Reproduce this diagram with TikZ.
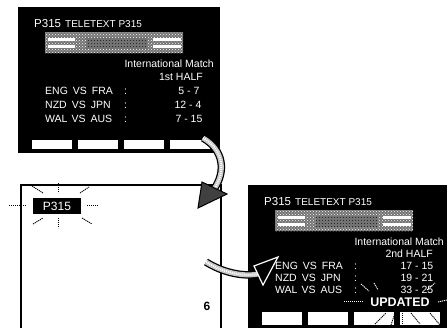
\documentclass[tikz,border=0pt]{standalone}
\usepackage{fontspec}
\setmainfont{Liberation Sans}
\usetikzlibrary{patterns}
\tikzset{
  scr/.style={fill=black},
  wtxt/.style={text=white, inner sep=0pt, font=\fontsize{10.5}{11}\selectfont},
  btn/.style={fill=white},
  ray/.style={line width=0.9pt, dash pattern=on 1.2pt off 0.8pt},
  band/.style={fill=black!55},
  bar/.style={fill=white},
  dith/.style={pattern=crosshatch dots, pattern color=white},
  mid/.style={pattern=crosshatch dots, pattern color=black},
}
\begin{document}
\begin{tikzpicture}[x=1pt,y=-1pt]
\useasboundingbox (0,0) rectangle (447,327);
% ---------- top screen ----------
\fill[scr] (18,7) rectangle (220,153);
\node[wtxt, anchor=base west, font=\fontsize{11.5}{12}\selectfont] (tp) at (34,27) {P315};
\node[wtxt, anchor=base west, font=\fontsize{10}{10}\selectfont] (tt) at (65,27) {TELETEXT P315};
\fill[band] (45,32) rectangle (183,53);
\fill[dith] (45,32) rectangle (183,53);
\fill[mid] (86,38) rectangle (147,48);
\fill[bar] (48,37.5) rectangle (75,40.5);
\fill[bar] (48,45) rectangle (75,48);
\fill[bar] (153,37.5) rectangle (181,40.5);
\fill[bar] (153,45) rectangle (181,48);
\node[wtxt, anchor=base east] (ti) at (214,67) {International Match};
\node[wtxt, anchor=base east] (th) at (203,80) {1st HALF};
\node[wtxt, anchor=base west] (t1a) at (45,94) {ENG\hspace{5pt}VS\hspace{5pt}FRA};
\node[wtxt, anchor=base west] (t2a) at (45,108) {NZD\hspace{5pt}VS\hspace{5pt}JPN};
\node[wtxt, anchor=base west] (t3a) at (45,122) {WAL\hspace{4pt}VS\hspace{5pt}AUS};
\node[wtxt, anchor=base west] (t1c) at (124,94) {:};
\node[wtxt, anchor=base west] (t2c) at (124,108) {:};
\node[wtxt, anchor=base west] (t3c) at (124,122) {:};
\node[wtxt, anchor=base] (t1s) at (189,94) {5 - 7};
\node[wtxt, anchor=base] (t2s) at (188,108) {12 - 4};
\node[wtxt, anchor=base] (t3s) at (189,122) {7 - 15};
\foreach \x in {32,78,124,170} \fill[btn] (\x,140) rectangle ++(40,9);
% ---------- lower-left frame ----------
\draw[line width=1.8pt] (21,330) -- (21,185) -- (221,185) -- (221,330);
\node[fill=black, text=white, inner sep=0pt, minimum width=48pt, minimum height=16pt,
      font=\fontsize{12}{12}\selectfont] (bp) at (57,206) {P315};
\draw[ray] (9,205) -- (26,205);
\draw[ray] (87,205) -- (98,205);
\draw[ray] (58,183) -- (58,193);
\draw[ray] (58,218) -- (58,228);
\draw[ray] (32,186) -- (43,193);
\draw[ray] (80,193) -- (89,187);
\draw[ray] (33,224) -- (43,218);
\draw[ray] (82,218) -- (92,224);
\node[inner sep=0pt, font=\bfseries\fontsize{12}{12}\selectfont] (six) at (207,306) {6};
% ---------- right screen ----------
\fill[scr] (248,185) rectangle (452,330);
\node[wtxt, anchor=base west, font=\fontsize{11.5}{12}\selectfont] (rp) at (264,205) {P315};
\node[wtxt, anchor=base west, font=\fontsize{10}{10}\selectfont] (rt) at (295,205) {TELETEXT P315};
\fill[band] (275,210) rectangle (413,231);
\fill[dith] (275,210) rectangle (413,231);
\fill[mid] (316,216) rectangle (377,226);
\fill[bar] (278,215.5) rectangle (305,218.5);
\fill[bar] (278,223) rectangle (305,226);
\fill[bar] (383,215.5) rectangle (411,218.5);
\fill[bar] (383,223) rectangle (411,226);
\node[wtxt, anchor=base east] (ri) at (444,245) {International Match};
\node[wtxt, anchor=base east] (rh) at (433,257) {2nd HALF};
\node[wtxt, anchor=base west] (r1a) at (275,269) {ENG\hspace{5pt}VS\hspace{5pt}FRA};
\node[wtxt, anchor=base west] (r2a) at (275,281) {NZD\hspace{5pt}VS\hspace{5pt}JPN};
\node[wtxt, anchor=base west] (r3a) at (275,293) {WAL\hspace{4pt}VS\hspace{5pt}AUS};
\node[wtxt, anchor=base west] (r1c) at (354,269) {:};
\node[wtxt, anchor=base west] (r2c) at (354,281) {:};
\node[wtxt, anchor=base west] (r3c) at (354,293) {:};
\node[wtxt, anchor=base] (r1s) at (417,269) {17 - 15};
\node[wtxt, anchor=base] (r2s) at (417,281) {19 - 21};
\node[wtxt, anchor=base] (r3s) at (417,293) {33 - 25};
\node[wtxt, anchor=base, font=\bfseries\fontsize{12.5}{13}\selectfont] (up) at (400,306) {UPDATED};
\foreach \x in {262,308,354,400} \fill[btn] (\x,312) rectangle ++(40,13);
\draw[ray, white] (344,301) -- (363,301);
\draw[ray, white] (438,302) -- (447,300);
\draw[ray, white] (361,284) -- (369,291);
\draw[ray, white] (374,283) -- (378,290);
\draw[ray, white] (427,290) -- (435,283);
\draw[ray, black] (375,324) -- (386,313);
\draw[ray, black] (391,325) -- (395,313);
\draw[ray, black] (402,313) -- (402,325);
\draw[ray, black] (411,313) -- (420,324);
\draw[ray, black] (430,313) -- (440,325);
% ---------- arrow 1 (top screen -> frame) ----------
\coordinate (a1s) at (203,138);
\coordinate (a1e) at (214,189);
\draw[line width=7.5pt] (a1s) .. controls (224,150) and (226,172) .. (a1e);
\draw[line width=5pt, gray!45] (a1s) .. controls (224,150) and (226,172) .. (a1e);
\draw[line width=2pt, white, dash pattern=on 1pt off 1pt] (a1s) .. controls (224,150) and (226,172) .. (a1e);
\filldraw[fill=black!75, draw=black, line width=1pt] (227,194) -- (198,208) -- (202,182) -- cycle;
% ---------- arrow 2 (frame -> right screen) ----------
\coordinate (a2s) at (206,262);
\coordinate (a2e) at (258,274);
\draw[line width=7.5pt] (a2s) .. controls (222,272) and (242,277) .. (a2e);
\draw[line width=5pt, gray!45] (a2s) .. controls (222,272) and (242,277) .. (a2e);
\draw[line width=2pt, white, dash pattern=on 1pt off 1pt] (a2s) .. controls (222,272) and (242,277) .. (a2e);
\filldraw[fill=black, draw=white, line width=1.2pt] (254,266) -- (278,257) -- (263,285) -- cycle;
\end{tikzpicture}
\end{document}
